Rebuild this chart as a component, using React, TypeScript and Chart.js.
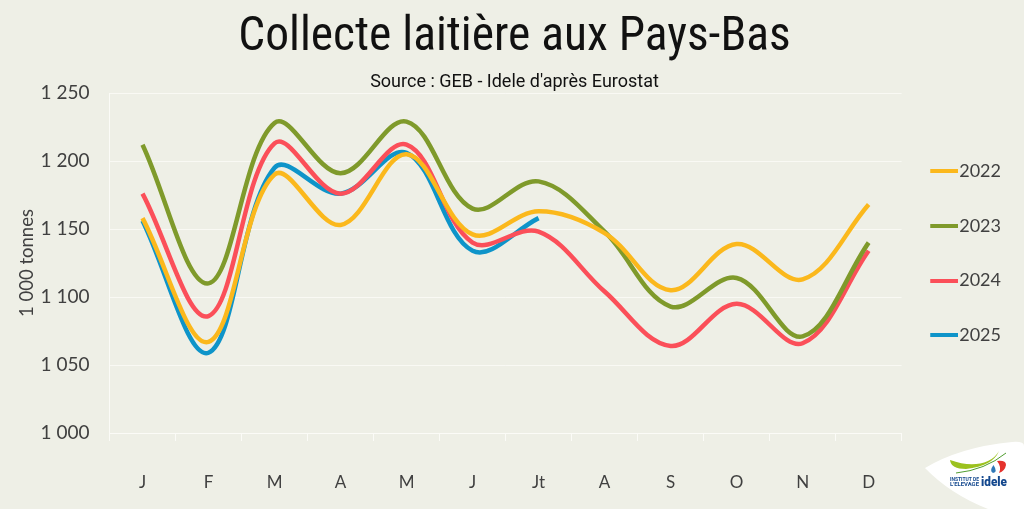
import React, { useEffect, useRef } from "react";
import { Chart, registerables } from "chart.js";
Chart.register(...registerables);

const months = ["J", "F", "M", "A", "M", "J", "Jt", "A", "S", "O", "N", "D"];
const y2022 = [1158, 1067, 1190, 1153, 1205, 1146, 1163, 1147, 1105, 1139, 1113, 1168];
const y2023 = [1212, 1110, 1228, 1191, 1229, 1165, 1185, 1148, 1093, 1114, 1071, 1140];
const y2024 = [1176, 1086, 1213, 1176, 1212, 1140, 1148, 1104, 1064, 1095, 1066, 1134];
const y2025 = [1156, 1059, 1195, 1176, 1206, 1134, 1158];
const yTicks = [1000, 1050, 1100, 1150, 1200, 1250];
const BG = "#eeefe6";
const FONT = "Lato";
const TEXT = "#404040";

function swatch(color: string) {
  const c = document.createElement("canvas");
  c.width = 34;
  c.height = 4;
  const g = c.getContext("2d")!;
  g.fillStyle = color;
  g.fillRect(6, 0, 28, 4);
  return c;
}

const legendNudge = {
  id: "legendNudge",
  afterLayout(chart: any) {
    if (chart.legend) chart.legend.left -= 6;
  },
};

export default function App() {
  const ref = useRef<HTMLCanvasElement>(null);
  useEffect(() => {
    document.body.style.margin = "0";
    document.body.style.background = BG;
    const series: [string, number[], string][] = [
      ["2022", y2022, "#fbb81c"],
      ["2023", y2023, "#7f9a2b"],
      ["2024", y2024, "#fb4f59"],
      ["2025", y2025, "#0e94c9"],
    ];
    const chart = new Chart(ref.current!, {
      type: "line",
      plugins: [legendNudge],
      data: {
        labels: months,
        datasets: series.map(([label, data, color]) => ({
          label,
          data,
          borderColor: color,
          backgroundColor: color,
          borderWidth: 4.5,
          tension: 0.36,
          cubicInterpolationMode: "default",
          borderCapStyle: "butt",
          pointRadius: 0,
          pointStyle: swatch(color) as any,
          fill: false,
        })) as any,
      },
      options: {
        animation: false,
        responsive: false,
        devicePixelRatio: 1,
        layout: { padding: { top: 10, right: 7, bottom: 0, left: 12 } },
        plugins: {
          title: {
            display: true,
            text: "Collecte laitière aux Pays-Bas",
            color: "#111111",
            font: { family: "Roboto Condensed, Liberation Sans Narrow, Roboto", size: 47.5, weight: "normal" },
            padding: { top: 0, bottom: 4.4 },
          },
          subtitle: {
            display: true,
            text: "Source : GEB - Idele d'après Eurostat",
            color: "#111111",
            font: { family: "Liberation Sans Narrow, Roboto", size: 18 },
            padding: { top: 0, bottom: 0 },
          },
          legend: {
            position: "right",
            align: "start",
            title: { display: true, text: " ", padding: 49.5, font: { size: 14 } },
            labels: {
              usePointStyle: true,
              color: TEXT,
              font: { family: FONT, size: 18 },
              padding: 36.6,
            },
          },
          tooltip: { enabled: false },
        },
        scales: {
          x: {
            offset: true,
            afterFit: (s: any) => { s.height = 76; },
            grid: { color: "#fbfbf7", lineWidth: 1, offset: true, drawOnChartArea: false, drawTicks: true, tickLength: 8 } as any,
            border: { color: "#fbfbf7" },
            ticks: { color: TEXT, font: { family: FONT, size: 17 }, padding: 31, maxRotation: 0, autoSkip: false },
          },
          y: {
            min: 1000,
            max: 1250,
            afterBuildTicks: (s: any) => { s.ticks = yTicks.map((value) => ({ value })); },
            afterFit: (s: any) => { s.width = 97.5; },
            grid: { color: "rgba(251,251,247,0.8)", drawTicks: false },
            border: { color: "#fbfbf7" },
            ticks: {
              color: TEXT,
              font: { family: FONT, size: 19 },
              padding: 20,
              callback: (v: any) => String(v).replace(/(\d)(\d{3})$/, "$1 $2"),
            },
            title: {
              display: true,
              text: "1 000 tonnes",
              color: TEXT,
              font: { family: FONT, size: 18.5 },
            },
          },
        },
      } as any,
    });
    return () => chart.destroy();
  }, []);
  return (
    <div style={{ position: "fixed", left: 0, top: 0, width: 1024, height: 509, background: BG, overflow: "hidden" }}>
      <canvas ref={ref} width={1024} height={509} style={{ display: "block" }} />
      <svg width={1024} height={509} style={{ position: "absolute", left: 0, top: 0 }}>
        <path d="M925 468 Q960 447 1012 442 Q1024 441 1024 446 L1024 509 L988 509 Q950 494 925 468 Z" fill="#ffffff" />
        <path d="M950 460 Q972 468 988 461 Q995 458 999 451 Q993 466 966 469 Q951 469 950 460 Z" fill="#9cc21f" />
        <path d="M956 473 Q985 470 1006 453" stroke="#4f9d2f" strokeWidth="1" fill="none" />
        <path d="M997 461 Q1006 460 1006 465 Q1005 471 999 473 Q1002 467 997 461 Z" fill="#e5322d" />
        <path d="M993.5 465 Q989 471 993 473 Q998 472 993.5 465 Z" fill="#2f78b7" />
        <text x="950" y="480.5" fontFamily="Roboto" fontWeight="700" fontSize="5.2" textLength="29" lengthAdjust="spacingAndGlyphs" fill="#14488e">INSTITUT DE</text>
        <text x="950" y="486" fontFamily="Roboto" fontWeight="700" fontSize="5.2" textLength="29" lengthAdjust="spacingAndGlyphs" fill="#14488e">L'ELEVAGE</text>
        <text x="981" y="486" fontFamily="Roboto" fontWeight="900" fontSize="13" textLength="26" lengthAdjust="spacingAndGlyphs" fill="#14488e">idele</text>
      </svg>
    </div>
  );
}
